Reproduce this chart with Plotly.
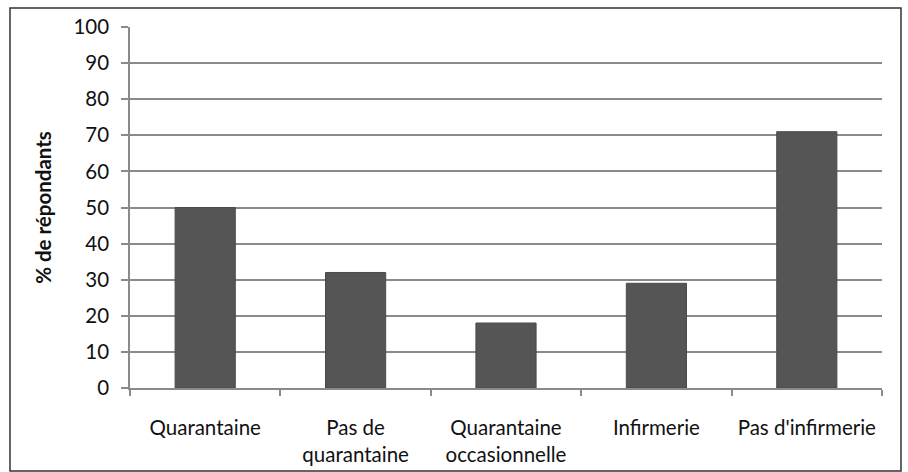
import plotly.graph_objects as go

categories = ["Quarantaine", "Pas de<br>quarantaine", "Quarantaine<br>occasionnelle",
              "Infirmerie", "Pas d'infirmerie"]
values = [50, 32, 18, 29, 71]
y_ticks = list(range(0, 101, 10))

W, H = 908, 472
L, R, T, B = 130, 26, 27, 84
pw, ph = W - L - R, H - T - B

def px_x(x):
    return (x - L) / pw

def px_y(y):
    return (H - B - y) / ph

FONT = "Lato"
FS = 20.5

fig = go.Figure(go.Bar(
    x=categories, y=values,
    marker=dict(color="#555555", line=dict(color="#4a4a4a", width=1)),
    width=0.4,
))

fig.update_layout(
    width=W, height=H,
    margin=dict(l=L, r=R, t=T, b=B),
    paper_bgcolor="white", plot_bgcolor="white",
    font=dict(family=FONT, size=FS, color="#111111"),
    showlegend=False,
    bargap=0.6,
    shapes=[dict(type="rect", xref="paper", yref="paper",
                 x0=px_x(10), x1=px_x(901), y0=px_y(471), y1=px_y(8),
                 line=dict(color="#333333", width=1.5), layer="below")],
)

fig.update_xaxes(
    type="category", automargin=False,
    showline=True, linecolor="#8a8a8a", linewidth=1.5,
    ticks="outside", tickson="boundaries", ticklen=6, tickcolor="#8a8a8a", tickwidth=1.5,
    ticklabelstandoff=21,
    showgrid=False,
    tickfont=dict(family=FONT, size=FS),
)

fig.update_yaxes(
    range=[0, 100], tickvals=y_ticks, automargin=False,
    showline=True, linecolor="#8a8a8a", linewidth=1.5,
    ticks="outside", ticklen=7, tickcolor="#8a8a8a", tickwidth=1.5,
    ticklabelstandoff=8,
    showgrid=True, gridcolor="#8a8a8a", gridwidth=1.5,
    zeroline=False,
    tickfont=dict(family=FONT, size=FS),
    title=dict(text="<b>% de répondants</b>", font=dict(family=FONT, size=FS), standoff=16),
)

fig.write_html("out.html")
